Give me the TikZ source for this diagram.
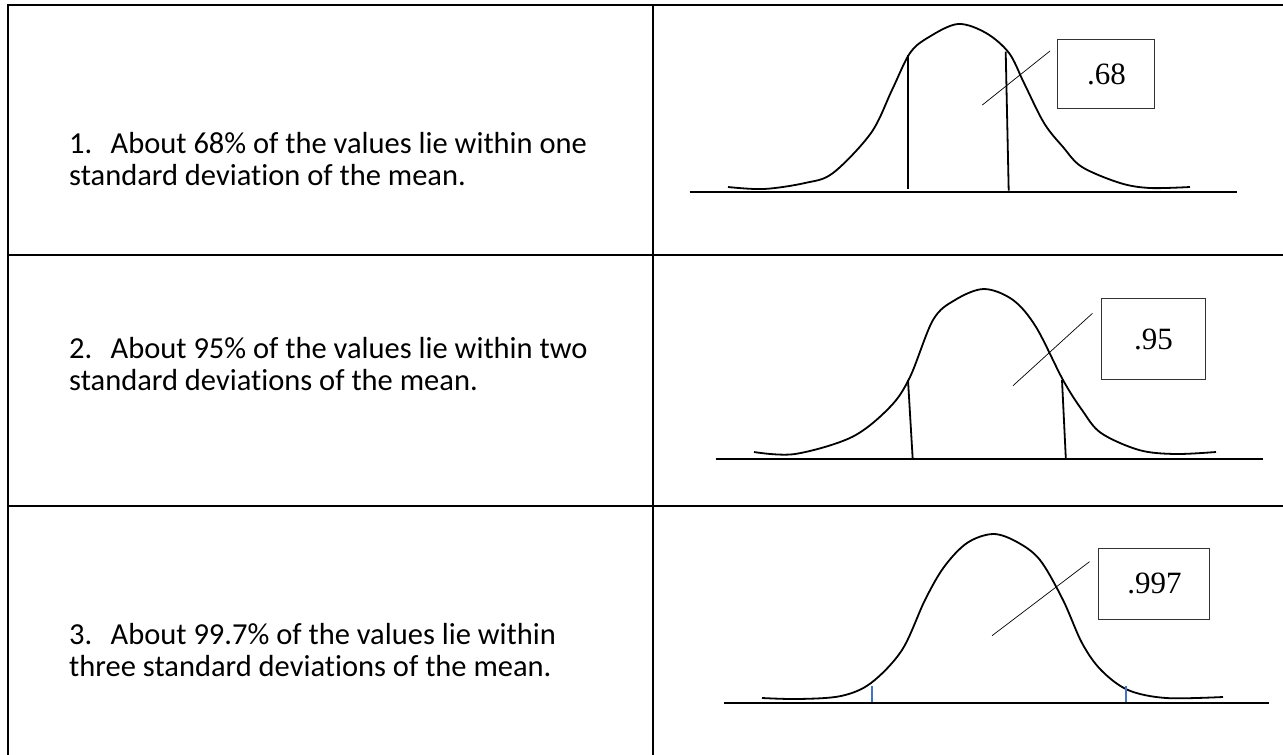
\documentclass[tikz,border=0pt]{standalone}
\usepackage{fontspec}
\setmainfont{Carlito}[Ligatures=NoCommon]
\newfontfamily\valfont{Liberation Serif}
\usetikzlibrary{positioning}
\definecolor{ink}{HTML}{000000}
\definecolor{frame}{HTML}{333333}
\definecolor{tick}{HTML}{4472C4}
\tikzset{
  grid/.style={line width=2pt,color=ink},
  axis/.style={line width=1.7pt,color=ink},
  bell/.style={line width=1.8pt,color=ink,smooth,tension=0.55},
  cut/.style={line width=1.8pt,color=ink},
  bluecut/.style={line width=2pt,color=tick},
  lead/.style={line width=0.7pt,color=ink},
  valbox/.style={draw=frame,line width=0.9pt,inner sep=0pt,font=\valfont\fontsize{31}{36}\selectfont},
  rule/.style={anchor=north west,inner sep=0pt,align=left,font=\fontsize{30.5}{32}\selectfont},
}

\begin{document}
\begin{tikzpicture}[x=1pt,y=-1pt]
  \useasboundingbox (0,0) rectangle (1283,755);
  % table
  \draw[grid] (1283,5) -- (8,5) -- (8,755);
  \draw[grid] (653,5) -- (653,755);
  \foreach \y in {255,506} {
    \draw[grid] (8,\y) -- (1283,\y);
  }
  % rules
  \node[rule] (rule1) at (69,132) {1.\hspace{0.6em}About 68\% of the values lie within one\\standard deviation of the mean.};
  \node[rule] (rule2) at (69,337) {2.\hspace{0.6em}About 95\% of the values lie within two\\standard deviations of the mean.};
  \node[rule] (rule3) at (69,623) {3.\hspace{0.6em}About 99.7\% of the values lie within\\three standard deviations of the mean.};

  % one sigma
  \draw[axis] (689.6,192.3) -- (1237,192.3);
  \draw[bell] plot coordinates {(728,187) (764,189) (805,183) (833,173) (871,133) (892,90) (910,53) (929,37) (958,24) (986,33) (1009,53) (1024,83) (1044,123) (1063,147) (1082,167) (1120,183) (1150,188) (1190,187)};
  \draw[cut] (907.7,55) -- (907.7,189);
  \draw[cut] (1005.7,51.7) -- (1008.7,190.7);
  \node[valbox,minimum width=97pt,minimum height=69pt] (box68) at (1106.4,74) {.68};
  \coordinate (tail68) at (982.3,105);
  \coordinate (tip68) at (1050,51);
  \draw[lead] (tail68) -- (tip68);

  % two sigma
  \draw[axis] (715.6,458.7) -- (1262.5,458.7);
  \draw[bell] plot coordinates {(754,452) (795,454) (852,437) (890,407) (910,377) (933,320) (955,300) (984,289) (1013,300) (1036,327) (1063,380) (1082,410) (1101,433) (1139,450) (1175,454) (1216,452)};
  \draw[cut] (908,380) -- (912.7,459);
  \draw[cut] (1062,380) -- (1065.8,458);
  \node[valbox,minimum width=104pt,minimum height=81pt] (box95) at (1153.6,339.2) {.95};
  \coordinate (tail95) at (1013,385.7);
  \coordinate (tip95) at (1092.5,313.3);
  \draw[lead] (tail95) -- (tip95);

  % three sigma
  \draw[axis] (724,702.7) -- (1269.4,702.7);
  \draw[bell] plot coordinates {(762,698) (799,699) (841,696) (871,683) (902,650) (925,600) (944,567) (967,543) (993,534) (1017,542) (1040,560) (1063,600) (1082,643) (1101,670) (1128,690) (1166,698) (1223,697)};
  \draw[bluecut] (871.5,686) -- (871.5,702);
  \draw[bluecut] (1125.5,686) -- (1125.5,702);
  \node[valbox,minimum width=111pt,minimum height=71pt] (box997) at (1154.4,583.8) {.997};
  \coordinate (tail997) at (992,635.7);
  \coordinate (tip997) at (1089.5,561.7);
  \draw[lead] (tail997) -- (tip997);
\end{tikzpicture}
\end{document}
